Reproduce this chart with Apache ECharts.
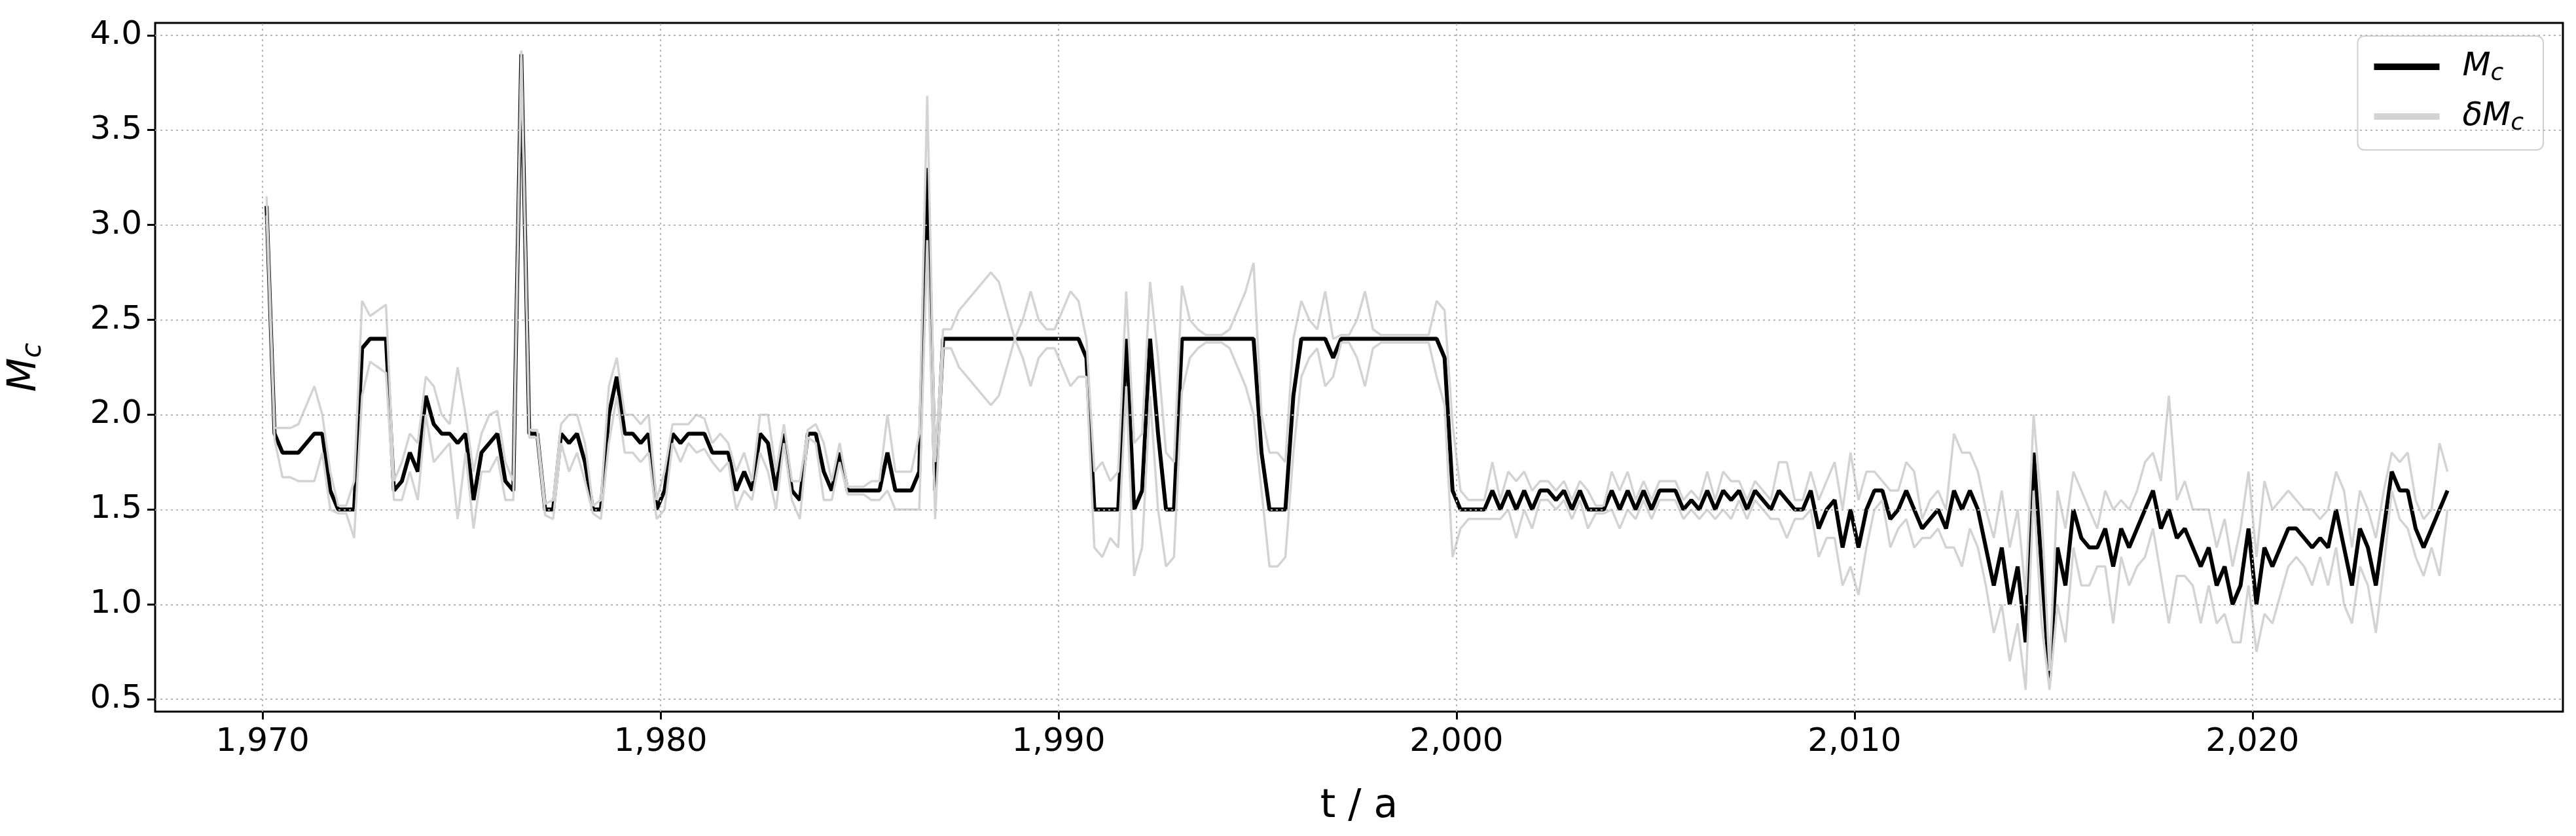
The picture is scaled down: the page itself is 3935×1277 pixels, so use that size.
<!DOCTYPE html>
<html>
<head>
<meta charset="utf-8">
<script src="https://cdn.jsdelivr.net/npm/echarts@6/dist/echarts.min.js"></script>
<style>html,body{margin:0;padding:0;background:#fff}#chart{width:3935px;height:1277px}</style>
</head>
<body>
<div id="chart"></div>
<script>
// sampling: one value every 0.2 a, starting at 1970.1 (5 per row = one year)
var tStart = 1970.1, tStep = 0.2;

var mcValues = [
    3.1, 1.9, 1.8, 1.8, 1.8,
    1.85, 1.9, 1.9, 1.6, 1.5,
    1.5, 1.5, 2.35, 2.4, 2.4,
    2.4, 1.6, 1.65, 1.8, 1.7,
    2.1, 1.95, 1.9, 1.9, 1.85,
    1.9, 1.55, 1.8, 1.85, 1.9,
    1.65, 1.6, 3.9, 1.9, 1.9,
    1.5, 1.5, 1.9, 1.85, 1.9,
    1.75, 1.5, 1.5, 2.0, 2.2,
    1.9, 1.9, 1.85, 1.9, 1.5,
    1.6, 1.9, 1.85, 1.9, 1.9,
    1.9, 1.8, 1.8, 1.8, 1.6,
    1.7, 1.6, 1.9, 1.85, 1.6,
    1.9, 1.6, 1.55, 1.9, 1.9,
    1.7, 1.6, 1.8, 1.6, 1.6,
    1.6, 1.6, 1.6, 1.8, 1.6,
    1.6, 1.6, 1.7, 3.3, 1.6,
    2.4, 2.4, 2.4, 2.4, 2.4,
    2.4, 2.4, 2.4, 2.4, 2.4,
    2.4, 2.4, 2.4, 2.4, 2.4,
    2.4, 2.4, 2.4, 2.3, 1.5,
    1.5, 1.5, 1.5, 2.4, 1.5,
    1.6, 2.4, 1.9, 1.5, 1.5,
    2.4, 2.4, 2.4, 2.4, 2.4,
    2.4, 2.4, 2.4, 2.4, 2.4,
    1.8, 1.5, 1.5, 1.5, 2.1,
    2.4, 2.4, 2.4, 2.4, 2.3,
    2.4, 2.4, 2.4, 2.4, 2.4,
    2.4, 2.4, 2.4, 2.4, 2.4,
    2.4, 2.4, 2.4, 2.3, 1.6,
    1.5, 1.5, 1.5, 1.5, 1.6,
    1.5, 1.6, 1.5, 1.6, 1.5,
    1.6, 1.6, 1.55, 1.6, 1.5,
    1.6, 1.5, 1.5, 1.5, 1.6,
    1.5, 1.6, 1.5, 1.6, 1.5,
    1.6, 1.6, 1.6, 1.5, 1.55,
    1.5, 1.6, 1.5, 1.6, 1.55,
    1.6, 1.5, 1.6, 1.55, 1.5,
    1.6, 1.55, 1.5, 1.5, 1.6,
    1.4, 1.5, 1.55, 1.3, 1.5,
    1.3, 1.5, 1.6, 1.6, 1.45,
    1.5, 1.6, 1.5, 1.4, 1.45,
    1.5, 1.4, 1.6, 1.5, 1.6,
    1.5, 1.3, 1.1, 1.3, 1.0,
    1.2, 0.8, 1.8, 1.2, 0.6,
    1.3, 1.1, 1.5, 1.35, 1.3,
    1.3, 1.4, 1.2, 1.4, 1.3,
    1.4, 1.5, 1.6, 1.4, 1.5,
    1.35, 1.4, 1.3, 1.2, 1.3,
    1.1, 1.2, 1.0, 1.1, 1.4,
    1.0, 1.3, 1.2, 1.3, 1.4,
    1.4, 1.35, 1.3, 1.35, 1.3,
    1.5, 1.3, 1.1, 1.4, 1.3,
    1.1, 1.4, 1.7, 1.6, 1.6,
    1.4, 1.3, 1.4, 1.5, 1.6
];

var dMcValues = [
    .05, .03, .13, .13, .15,
    .2, .25, .1, .1, .02,
    .02, .15, .25, .12, .15,
    .18, .05, .1, .1, .15,
    .1, .2, .1, .05, .4,
    .1, .15, .1, .15, .12,
    .1, .05, .02, .02, .02,
    .03, .05, .05, .15, .1,
    .1, .02, .05, .15, .1,
    .1, .1, .1, .1, .05,
    .1, .05, .1, .05, .1,
    .08, .05, .1, .05, .1,
    .1, .05, .1, .15, .1,
    .05, .05, .1, .02, .05,
    .15, .05, .05, .02, .02,
    .02, .05, .05, .2, .1,
    .1, .1, .2, .38, .15,
    .05, .05, .15, .2, .25,
    .3, .35, .3, .15, .0,
    .1, .25, .1, .05, .05,
    .15, .25, .2, .1, .2,
    .25, .15, .2, .25, .35,
    .3, .3, .4, .3, .25,
    .28, .1, .05, .02, .02,
    .02, .05, .15, .25, .4,
    .2, .3, .3, .25, .3,
    .2, .1, .05, .25, .1,
    .02, .02, .1, .25, .05,
    .02, .02, .02, .02, .02,
    .02, .02, .2, .25, .35,
    .1, .05, .05, .05, .15,
    .05, .1, .15, .1, .1,
    .05, .05, .05, .05, .05,
    .05, .1, .02, .02, .1,
    .1, .1, .05, .05, .05,
    .05, .05, .05, .05, .05,
    .05, .1, .05, .1, .1,
    .05, .05, .05, .05, .05,
    .15, .2, .05, .05, .1,
    .15, .15, .2, .2, .3,
    .25, .2, .1, .05, .15,
    .1, .15, .2, .05, .1,
    .1, .1, .3, .3, .2,
    .2, .2, .25, .3, .3,
    .3, .25, .2, .3, .05,
    .3, .3, .2, .25, .2,
    .1, .2, .3, .15, .2,
    .2, .25, .2, .25, .6,
    .2, .25, .2, .3, .2,
    .2, .25, .2, .3, .3,
    .25, .35, .3, .25, .2,
    .15, .15, .2, .1, .2,
    .2, .3, .2, .2, .2,
    .25, .2, .1, .15, .2,
    .15, .15, .1, .35, .1
];

var xTicks = [1970, 1980, 1990, 2000, 2010, 2020];
var yTicks = [0.5, 1.0, 1.5, 2.0, 2.5, 3.0, 3.5, 4.0];

var mcData = [], upperData = [], lowerData = [];
$each(mcValues, function (i, v) {
    var t = +(tStart + i * tStep).toFixed(2);
    mcData.push([t, v]);
    upperData.push([t, +(v + dMcValues[i]).toFixed(3)]);
    lowerData.push([t, +(v - dMcValues[i]).toFixed(3)]);
});
function $each(arr, fn) { for (var i = 0; i < arr.length; i++) fn(i, arr[i]); }

var font = 'DejaVu Sans';
var gridLines = [];
$each(xTicks, function (i, v) { gridLines.push({ xAxis: v }); });
$each(yTicks, function (i, v) { gridLines.push({ yAxis: v }); });

var myChart = echarts.init(document.getElementById('chart'));

var option = {
    animation: false,
    backgroundColor: '#fff',
    textStyle: { fontFamily: font },
    grid: {
        left: 231, right: 20, top: 35, bottom: 190,
        show: true, borderColor: '#000', borderWidth: 3, backgroundColor: 'transparent'
    },
    legend: {
        right: 50, top: 55,
        orient: 'vertical',
        itemWidth: 100, itemHeight: 10, itemGap: 22,
        padding: [22, 30, 22, 25],
        borderColor: '#d0d0d0', borderWidth: 2, borderRadius: 10,
        backgroundColor: '#fff',
        data: [
            { name: 'Mc', icon: 'rect', itemStyle: { color: '#000' } },
            { name: 'dMc', icon: 'rect', itemStyle: { color: '#d3d3d3' } }
        ],
        formatter: function (name) {
            return name === 'Mc' ? '{i|M}{s|c}' : '{i|δM}{s|c}';
        },
        textStyle: {
            padding: [0, 0, 0, 30],
            rich: {
                i: { fontFamily: font, fontStyle: 'italic', fontSize: 50, color: '#000' },
                s: { fontFamily: font, fontStyle: 'italic', fontSize: 36, color: '#000', padding: [22, 0, 0, 0] }
            }
        }
    },
    xAxis: {
        type: 'value',
        min: 1967.3, max: 2027.8,
        name: 't / a', nameLocation: 'middle', nameGap: 115,
        nameTextStyle: { fontFamily: font, fontSize: 60, color: '#000' },
        axisLine: { show: false },
        splitLine: { show: false },
        axisTick: { show: true, length: 12, lineStyle: { color: '#000', width: 3 }, customValues: xTicks },
        axisLabel: { fontSize: 50, color: '#000', margin: 22, customValues: xTicks }
    },
    yAxis: {
        type: 'value',
        min: 0.435, max: 4.065,
        name: '{i|M}{s|c}', nameLocation: 'middle', nameGap: 165, nameRotate: 90,
        nameTextStyle: {
            rich: {
                i: { fontFamily: font, fontStyle: 'italic', fontSize: 60, color: '#000' },
                s: { fontFamily: font, fontStyle: 'italic', fontSize: 42, color: '#000', padding: [26, 0, 0, 0] }
            }
        },
        axisLine: { show: false },
        splitLine: { show: false },
        axisTick: { show: true, length: 12, lineStyle: { color: '#000', width: 3 }, customValues: yTicks },
        axisLabel: {
            fontSize: 50, color: '#000', margin: 20, customValues: yTicks,
            formatter: function (v) { return v.toFixed(1); }
        }
    },
    series: [
        {
            name: 'grid', type: 'line', data: [], z: 1, silent: true,
            markLine: {
                silent: true, symbol: 'none', label: { show: false },
                lineStyle: { color: '#b8b8b8', type: [3, 5], width: 2 },
                data: gridLines
            }
        },
        {
            name: 'Mc', type: 'line', data: mcData, showSymbol: false, z: 3,
            lineStyle: { color: '#000', width: 6 }, itemStyle: { color: '#000' }
        },
        {
            name: 'dMc', type: 'line', data: upperData, showSymbol: false, z: 4,
            lineStyle: { color: '#d3d3d3', width: 3.5 }, itemStyle: { color: '#d3d3d3' }
        },
        {
            name: 'dMc', type: 'line', data: lowerData, showSymbol: false, z: 4,
            lineStyle: { color: '#d3d3d3', width: 3.5 }, itemStyle: { color: '#d3d3d3' }
        }
    ]
};

myChart.setOption(option, true);
</script>
</body>
</html>
